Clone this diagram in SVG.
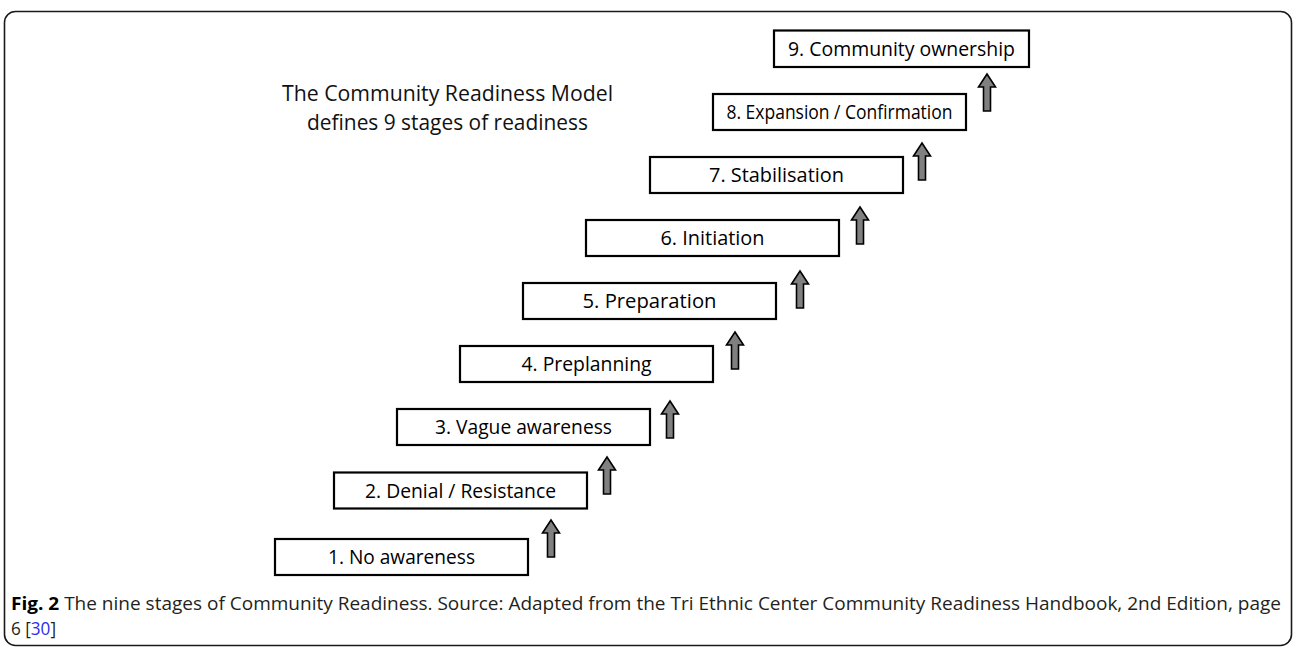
<svg xmlns="http://www.w3.org/2000/svg" width="1296" height="647" viewBox="0 0 1296 647">
  <style>
    .frame { fill: none; stroke: #1a1a1a; stroke-width: 1.6; }
    .stage rect { fill: #ffffff; stroke: #000000; stroke-width: 2.2; }
    .stage text { font-family: "Open Sans", "Noto Sans", sans-serif; font-size: 20.5px; fill: #000000; text-anchor: middle; }
    .title { font-family: "Open Sans", "Noto Sans", sans-serif; font-size: 21px; fill: #111111; text-anchor: middle; }
    .step { fill: #808080; stroke: #000000; stroke-width: 1.6; stroke-linejoin: miter; }
    .caption { font-family: "Open Sans", "Noto Sans", sans-serif; font-size: 18.5px; fill: #231f20; }
    .ref { fill: #2d2df0; }
  </style>
  <defs>
    <!-- block arrow, tip at origin, pointing up -->
    <path id="up-arrow" d="M0,0 L8.5,13 L3.5,13 L3.5,37 L-3.5,37 L-3.5,13 L-8.5,13 Z"/>
  </defs>

  <rect class="frame" x="4.5" y="11.5" width="1287" height="634" rx="11" ry="11"/>

  <text class="title" x="447.5" y="101" textLength="331" lengthAdjust="spacingAndGlyphs">The Community Readiness Model</text>
  <text class="title" x="447.5" y="130" textLength="281" lengthAdjust="spacingAndGlyphs">defines 9 stages of readiness</text>

  <g id="stage-1" class="stage"><rect x="275" y="539" width="253" height="36"/><text x="401.5" y="564" textLength="147" lengthAdjust="spacingAndGlyphs">1. No awareness</text></g>
  <g id="stage-2" class="stage"><rect x="334" y="472.5" width="253" height="36"/><text x="460.5" y="497.5" textLength="191" lengthAdjust="spacingAndGlyphs">2. Denial / Resistance</text></g>
  <g id="stage-3" class="stage"><rect x="397" y="409" width="253" height="36"/><text x="523.5" y="434" textLength="177" lengthAdjust="spacingAndGlyphs">3. Vague awareness</text></g>
  <g id="stage-4" class="stage"><rect x="460" y="346" width="253" height="36"/><text x="586.5" y="371" textLength="130" lengthAdjust="spacingAndGlyphs">4. Preplanning</text></g>
  <g id="stage-5" class="stage"><rect x="523" y="283" width="253" height="36"/><text x="649.5" y="308" textLength="134" lengthAdjust="spacingAndGlyphs">5. Preparation</text></g>
  <g id="stage-6" class="stage"><rect x="586" y="220" width="253" height="36"/><text x="712.5" y="245" textLength="104" lengthAdjust="spacingAndGlyphs">6. Initiation</text></g>
  <g id="stage-7" class="stage"><rect x="650" y="157" width="253" height="36"/><text x="776.5" y="182" textLength="135" lengthAdjust="spacingAndGlyphs">7. Stabilisation</text></g>
  <g id="stage-8" class="stage"><rect x="713" y="94" width="253" height="36"/><text x="839.5" y="119" textLength="226" lengthAdjust="spacingAndGlyphs">8. Expansion / Confirmation</text></g>
  <g id="stage-9" class="stage"><rect x="774" y="30.5" width="255" height="36.5"/><text x="901.5" y="56" textLength="227" lengthAdjust="spacingAndGlyphs">9. Community ownership</text></g>

  <g id="connectors">
    <use href="#up-arrow" class="step" x="551" y="520"/>
    <use href="#up-arrow" class="step" x="607" y="457"/>
    <use href="#up-arrow" class="step" x="670" y="401"/>
    <use href="#up-arrow" class="step" x="735" y="332"/>
    <use href="#up-arrow" class="step" x="800" y="271"/>
    <use href="#up-arrow" class="step" x="860" y="207"/>
    <use href="#up-arrow" class="step" x="922" y="143"/>
    <use href="#up-arrow" class="step" x="987" y="74"/>
  </g>

  <text class="caption" x="11" y="610" textLength="1270" lengthAdjust="spacingAndGlyphs"><tspan font-weight="bold" fill="#000000">Fig. 2</tspan> The nine stages of Community Readiness. Source: Adapted from the Tri Ethnic Center Community Readiness Handbook, 2nd Edition, page</text>
  <text class="caption" x="11" y="635" textLength="45" lengthAdjust="spacingAndGlyphs">6 [<tspan class="ref">30</tspan>]</text>
</svg>
